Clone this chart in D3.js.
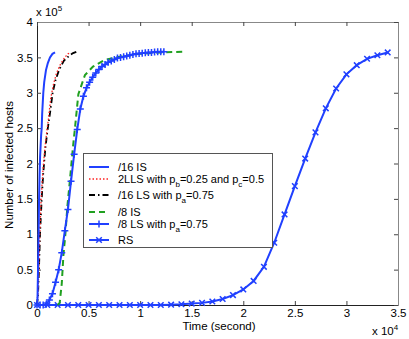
<!DOCTYPE html>
<html>
<head>
<meta charset="utf-8">
<script src="https://cdn.jsdelivr.net/npm/d3@7"></script>
<style>
  body { margin: 0; background: #fff; }
  svg { display: block; font-family: "Liberation Sans", Arial, Helvetica, sans-serif; }
</style>
</head>
<body>
<svg id="chart" width="409" height="339"></svg>
<script>
// time in seconds, infected hosts
var is16 = [[0,0],[50,10000],[100,50000],[150,100000],[200,150000],[250,185000],[300,210000],[400,240000],[455,250000],[500,270000],[610,300000],[700,315000],[870,332000],[1050,342000],[1260,350000],[1500,355000],[1750,357000]];
var lls2 = [[0,0],[100,18000],[180,50000],[270,100000],[400,150000],[550,185000],[750,220000],[950,245000],[1100,262000],[1330,292000],[1600,312000],[1900,328000],[2300,341000],[2700,350000],[3000,355000],[3300,357000]];
var ls16 = [[0,0],[100,15000],[190,50000],[290,100000],[455,150000],[600,185000],[800,220000],[1000,245000],[1250,270000],[1520,300000],[1800,318000],[2160,333000],[2600,345000],[3100,352000],[3500,356000],[3850,358000]];
var is8 = [[2000,0],[2200,3000],[2400,30000],[2560,70000],[2750,100000],[2950,140000],[3150,170000],[3370,205000],[3500,225000],[3680,250000],[4010,298000],[4650,325000],[5430,337000],[6500,346000],[8000,351000],[10000,355000],[12000,357000],[14100,358000]];
var ls8Time = [0,300,600,900,1200,1500,1800,2100,2400,2700,3000,3300,3600,3900,4200,4500,4800,5100,5400,5700,6000,6300,6600,6900,7200,7500,7800,8100,8400,8700,9000,9300,9600,9900,10200,10500,10800,11100,11400,11700,12000,12300];
var ls8Hosts = [0,0,0,1000,7000,16000,32000,50000,74000,105000,135000,175000,213000,248000,277000,295000,307000,315000,322000,328000,333000,337000,340000,343000,345000,347000,349000,350000,351000,352000,353000,354000,355000,355500,356000,356500,357000,357000,357500,358000,358000,358000];
var rsTime = [0,1000,2000,3000,4000,5000,6000,7000,8000,9000,10000,11000,12000,13000,14000,15000,16000,17000,18000,19000,20000,21000,22000,23000,24000,25000,26000,27000,28000,29000,30000,31000,32000,33000,34000];
var rsHosts = [0,0,0,0,0,0,0,0,0,0,0,0,0,500,1000,2000,3000,5000,8500,14000,22000,34000,54000,88000,128000,168000,207000,244000,278000,306000,326000,339000,348000,353000,357000];

var xTicks = [0,5000,10000,15000,20000,25000,30000,35000];
var xTickLabels = ["0","0.5","1","1.5","2","2.5","3","3.5"];
var yTicks = [0,50000,100000,150000,200000,250000,300000,350000,400000];
var yTickLabels = ["0","0.5","1","1.5","2","2.5","3","3.5","4"];

var blue = "#2040ff", green = "#20a020", red = "#ff2020";

var svg = d3.select("#chart");
var plotLeft = 37, plotRight = 398, plotTop = 22, plotBottom = 305;

var x = d3.scaleLinear().domain([0, 35000]).range([plotLeft, plotRight]);
var y = d3.scaleLinear().domain([0, 400000]).range([plotBottom, plotTop]);

//axes with inward ticks on all four sides
svg.append("g").attr("transform", "translate(0," + plotBottom + ")")
  .call(d3.axisBottom(x).tickValues(xTicks).tickFormat((d, i) => xTickLabels[i]).tickSize(-4).tickSizeOuter(0).tickPadding(4));
svg.append("g").attr("transform", "translate(" + plotLeft + ",0)")
  .call(d3.axisLeft(y).tickValues(yTicks).tickFormat((d, i) => yTickLabels[i]).tickSize(-4).tickSizeOuter(0).tickPadding(4));
svg.append("g").attr("class", "side").attr("transform", "translate(0," + plotTop + ")")
  .call(d3.axisTop(x).tickValues(xTicks).tickFormat("").tickSize(-4).tickSizeOuter(0));
svg.append("g").attr("class", "side").attr("transform", "translate(" + plotRight + ",0)")
  .call(d3.axisRight(y).tickValues(yTicks).tickFormat("").tickSize(-4).tickSizeOuter(0));

svg.selectAll(".tick text").attr("font-size", 11.5).attr("fill", "#000").attr("font-family", null);
svg.selectAll(".domain").attr("stroke", "#222");
svg.selectAll(".side .domain").attr("stroke", "#888");
svg.selectAll(".tick line").attr("stroke", "#444");

var line = d3.line().x(d => x(d[0])).y(d => y(d[1]));

const drawSeries = function(data, color, width, dash) {
  svg.append("path").datum(data)
    .attr("d", line)
    .attr("fill", "none")
    .attr("stroke", color)
    .attr("stroke-width", width)
    .attr("stroke-dasharray", dash);
}

var plusPath = "M-3.5,0H3.5M0,-3.5V3.5";
var crossPath = "M-2.8,-2.8L2.8,2.8M-2.8,2.8L2.8,-2.8";

const drawMarkers = function(data, shape, color) {
  svg.append("g").selectAll("path").data(data).join("path")
    .attr("d", shape)
    .attr("transform", d => "translate(" + x(d[0]) + "," + y(d[1]) + ")")
    .attr("fill", "none")
    .attr("stroke", color)
    .attr("stroke-width", 1.5);
}

var ls8 = ls8Time.map((t, i) => [t, ls8Hosts[i]]);
var rs = rsTime.map((t, i) => [t, rsHosts[i]]);

drawSeries(rs, blue, 2, null);
drawMarkers(rs, crossPath, blue);
drawSeries(is8, green, 2, "6,4");
drawSeries(ls8, blue, 2, null);
drawMarkers(ls8, plusPath, blue);
drawSeries(ls16, "#000", 1.8, "6,3,1.5,3");
drawSeries(lls2, red, 1.3, "1.5,2");
drawSeries(is16, blue, 2, null);

//axis labels and exponents
svg.append("text").attr("x", 219).attr("y", 330).attr("text-anchor", "middle").attr("font-size", 11.5).text("Time (second)");
svg.append("text").attr("transform", "translate(13,165) rotate(-90)").attr("text-anchor", "middle").attr("font-size", 11.5).text("Number of infected hosts");

var e5 = svg.append("text").attr("x", 36).attr("y", 16).attr("font-size", 11.5);
e5.append("tspan").text("x 10");
e5.append("tspan").attr("dy", -5).attr("font-size", 8).text("5");
var e4 = svg.append("text").attr("x", 372).attr("y", 335).attr("font-size", 11.5);
e4.append("tspan").text("x 10");
e4.append("tspan").attr("dy", -5).attr("font-size", 8).text("4");

//legend
var legend = svg.append("g");
legend.append("rect").attr("x", 83.5).attr("y", 153.5).attr("width", 189).attr("height", 94)
  .attr("fill", "#fff").attr("stroke", "#555").attr("stroke-width", 1);

var legendRows = [
  {y: 167, color: blue, width: 2, dash: null, marker: null, parts: [["/16 IS", 0]]},
  {y: 179, color: red, width: 1.3, dash: "1.5,2", marker: null, parts: [["2LLS with p", 0], ["b", 1], ["=0.25 and p", 0], ["c", 1], ["=0.5", 0]]},
  {y: 195, color: "#000", width: 1.8, dash: "6,3,1.5,3", marker: null, parts: [["/16 LS with p", 0], ["a", 1], ["=0.75", 0]]},
  {y: 212, color: green, width: 2, dash: "6,4", marker: null, parts: [["/8 IS", 0]]},
  {y: 224, color: blue, width: 2, dash: null, marker: plusPath, parts: [["/8 LS with p", 0], ["a", 1], ["=0.75", 0]]},
  {y: 240, color: blue, width: 2, dash: null, marker: crossPath, parts: [["RS", 0]]}
];

legendRows.forEach(row => {
  legend.append("line").attr("x1", 89).attr("x2", 109).attr("y1", row.y).attr("y2", row.y)
    .attr("stroke", row.color).attr("stroke-width", row.width).attr("stroke-dasharray", row.dash);
  if (row.marker) {
    legend.append("path").attr("d", row.marker).attr("transform", "translate(99," + row.y + ")")
      .attr("fill", "none").attr("stroke", row.color).attr("stroke-width", 1.5);
  }
  var t = legend.append("text").attr("x", 118).attr("y", row.y + 4).attr("font-size", 11);
  var sub = 0;
  row.parts.forEach(p => {
    var dy = p[1] - sub;
    t.append("tspan").attr("dy", dy * 4).attr("font-size", p[1] ? 8 : 11).text(p[0]);
    sub = p[1];
  });
});
</script>
</body>
</html>
